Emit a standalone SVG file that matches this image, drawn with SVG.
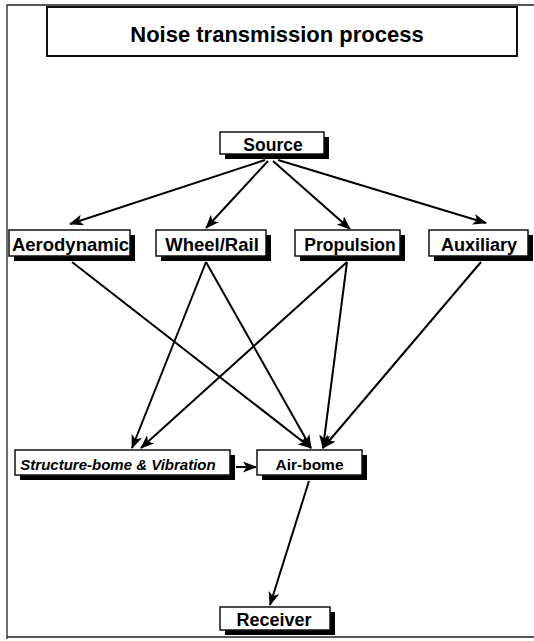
<svg xmlns="http://www.w3.org/2000/svg" width="534" height="641" viewBox="0 0 534 641">
<style>
.frame{fill:none;stroke:#222;stroke-width:1.3}
.box{fill:#fff;stroke:#111;stroke-width:1.5}
.shadow{fill:#000}
.lbl{font-family:"Liberation Sans",Arial,sans-serif;font-weight:bold;fill:#000;text-anchor:middle}
.edge{stroke:#000;stroke-width:2;fill:none;marker-end:url(#ah)}
</style>
<defs>
<marker id="ah" markerUnits="userSpaceOnUse" markerWidth="14" markerHeight="11" refX="13" refY="5.5" orient="auto">
<path d="M0,0 L14,5.5 L0,11 L3.5,5.5 z" fill="#000"/>
</marker>
</defs>
<rect width="534" height="641" fill="#fff"/>
<path class="frame" d="M7,639 L7,5 L534,5 M7,637 L534,637"/>
<g id="title">
<rect x="47" y="7" width="470" height="49" fill="#fff" stroke="#111" stroke-width="2"/>
<text class="lbl" x="277" y="42" font-size="22">Noise transmission process</text>
</g>
<g id="connectors">
<line class="edge" x1="265" y1="160" x2="70" y2="224"/>
<line class="edge" x1="268" y1="161" x2="206" y2="228"/>
<line class="edge" x1="273" y1="161" x2="350" y2="229"/>
<line class="edge" x1="278" y1="160" x2="486" y2="223"/>
<line class="edge" x1="72" y1="262" x2="311" y2="448"/>
<line class="edge" x1="206" y1="262" x2="132" y2="448"/>
<line class="edge" x1="206" y1="262" x2="311" y2="448"/>
<line class="edge" x1="347" y1="262" x2="141" y2="448"/>
<line class="edge" x1="347" y1="262" x2="323" y2="448"/>
<line class="edge" x1="481" y1="262" x2="323" y2="448"/>
<line class="edge" x1="236" y1="467" x2="256" y2="467"/>
<line class="edge" x1="309" y1="481" x2="270" y2="605"/>
</g>
<g id="source">
<rect class="shadow" x="225" y="137" width="104" height="22"/>
<rect class="box" x="220" y="132" width="104" height="22"/>
<text class="lbl" x="273" y="151" font-size="17.5">Source</text>
</g>
<g id="aerodynamic">
<rect class="shadow" x="14" y="235" width="121" height="26"/>
<rect class="box" x="9" y="230" width="121" height="26"/>
<text class="lbl" x="70.5" y="251" font-size="18.5">Aerodynamic</text>
</g>
<g id="wheelrail">
<rect class="shadow" x="161" y="235" width="110" height="26"/>
<rect class="box" x="156" y="230" width="110" height="26"/>
<text class="lbl" x="212" y="251" font-size="18.5">Wheel/Rail</text>
</g>
<g id="propulsion">
<rect class="shadow" x="300" y="235" width="105" height="26"/>
<rect class="box" x="295" y="230" width="105" height="26"/>
<text class="lbl" x="350" y="251" font-size="17.5">Propulsion</text>
</g>
<g id="auxiliary">
<rect class="shadow" x="434" y="235" width="99" height="26"/>
<rect class="box" x="429" y="230" width="99" height="26"/>
<text class="lbl" x="479" y="251" font-size="18">Auxiliary</text>
</g>
<g id="structure">
<rect class="shadow" x="20" y="455" width="215" height="25"/>
<rect class="box" x="15" y="450" width="215" height="25"/>
<text class="lbl" x="118" y="470" font-size="15" font-style="italic">Structure-bome &amp; Vibration</text>
</g>
<g id="airborne">
<rect class="shadow" x="262" y="455" width="105" height="25"/>
<rect class="box" x="257" y="450" width="105" height="25"/>
<text class="lbl" x="309.5" y="470" font-size="15.5">Air-bome</text>
</g>
<g id="receiver">
<rect class="shadow" x="225" y="612" width="110" height="23"/>
<rect class="box" x="220" y="607" width="110" height="23"/>
<text class="lbl" x="274" y="626" font-size="18">Receiver</text>
</g>
</svg>
